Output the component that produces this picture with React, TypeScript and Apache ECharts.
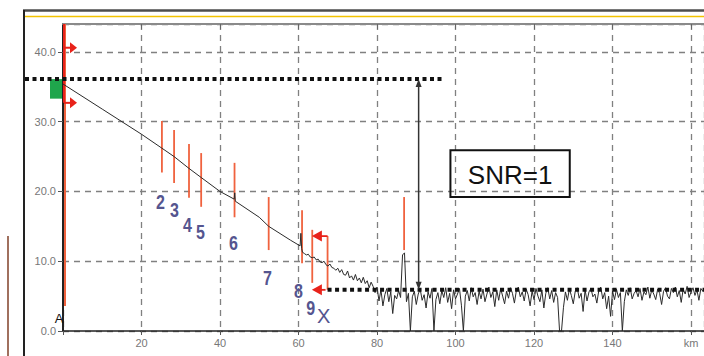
import React, { useEffect, useRef } from "react";
import * as echarts from "echarts";

// ---- data (km, dB) ----
const TRACE_KM = [0, 10, 20, 25.2, 28.3, 32.1, 35.2, 40, 43.6, 43.75, 43.9, 50, 52.4, 58, 60.4, 60.6, 60.8];
const TRACE_DB = [35.4, 31.8, 28.2, 26.2, 25.0, 23.3, 22.0, 20.0, 18.9, 19.8, 18.6, 16.3, 15.0, 13.0, 12.2, 14.0, 11.8];

const NOISE_START_KM = 61;
const NOISE_STEP_KM = 0.5;
const NOISE_DB = [
  11.3, 11.1, 10.9, 11.0, 10.6, 10.5, 10.6, 10.2, 10.3, 9.9,
  9.8, 10.0, 9.5, 9.3, 9.6, 9.1, 9.0, 8.7, 9.0, 8.4,
  8.8, 8.1, 8.0, 8.6, 7.6, 7.9, 7.3, 8.1, 7.2, 7.6,
  6.9, 7.7, 6.8, 7.2, 6.2, 7.0, 6.4, 5.5, 6.3, 4.3,
  5.9, 3.6, 5.2, 6.1, 4.2, 5.6, 2.5, 5.1, 4.6, 5.8,
  4.8, 10.9, 11.2, 4.2, 5.4, 0.0, 4.9, 5.7, 3.8, 5.3,
  6.0, 4.4, 5.2, 3.3, 5.6, 4.7, 6.1, 0.0, 4.5, 5.5,
  3.9, 5.8, 4.8, 6.2, 4.1, 5.4, 3.2, 5.9, 4.6, 5.3,
  6.1, 3.7, 0.0, 5.0, 5.8, 4.3, 6.2, 4.9, 5.5, 3.8,
  5.7, 4.6, 6.0, 4.2, 5.3, 6.3, 4.8, 5.6, 3.5, 5.9,
  4.4, 6.1, 5.0, 3.9, 5.7, 4.7, 6.2, 5.4, 4.0, 5.8,
  6.3, 4.9, 5.6, 4.3, 6.0, 5.2, 3.6, 5.7, 4.5, 6.1,
  5.0, 4.2, 5.9, 3.3, 5.4, 6.2, 4.6, 5.8, 4.1, 5.5,
  4.8, 0.0, 0.0, 3.4, 5.6, 4.4, 6.0, 5.1, 3.9, 5.7,
  6.2, 4.7, 5.4, 2.8, 5.9, 4.3, 5.6, 6.1, 4.9, 5.3,
  4.0, 5.8, 6.3, 4.6, 5.5, 3.2, 5.0, 2.1, 5.7, 4.5,
  6.0, 4.8, 5.5, 0.0, 4.2, 5.9, 5.1, 6.2, 4.6, 5.4,
  5.8, 4.9, 6.1, 4.4, 5.6, 5.2, 6.3, 4.7, 5.9, 5.3,
  4.5, 6.0, 5.4, 3.8, 5.7, 6.2, 5.0, 4.6, 6.1, 5.5,
  6.3, 4.9, 5.8, 4.1, 6.0, 5.3, 6.4, 4.8, 5.6, 6.2,
  5.1, 5.9, 4.4, 6.1, 5.7, 6.3, 5.2, 5.8, 4.9, 6.0,
];

// event markers (red vertical bars)
const MARKER_KM = [25.2, 28.3, 32.1, 35.2, 43.7, 52.4, 60.9, 63.5, 86.9];
const MARKER_TOP_DB = [30.1, 28.8, 26.8, 25.5, 24.1, 19.2, 17.3, 14.5, 19.2];
const MARKER_BOTTOM_DB = [22.7, 21.2, 19.1, 17.8, 16.3, 11.6, 9.7, 6.9, 11.6];

const LAUNCH_MARKER_TOP_DB = 44;
const LAUNCH_MARKER_BOTTOM_DB = 3.6;
const LAUNCH_ARROW_DB = [40.6, 32.7];

// event labels
const EVENT_LABELS = ["2", "3", "4", "5", "6", "7", "8", "9", "X"];
const EVENT_LABEL_KM = [24.8, 28.4, 31.7, 35.0, 43.4, 52.1, 60.0, 63.1, 66.4];
const EVENT_LABEL_DB = [18.5, 17.3, 15.2, 14.1, 12.6, 7.6, 5.7, 3.2, 2.2];

// SNR annotation
const LAUNCH_LEVEL_DB = 36.1;
const NOISE_LEVEL_DB = 5.9;
const LAUNCH_LEVEL_END_KM = 96.7;
const NOISE_LEVEL_START_KM = 67.4;
const BRACKET_TIP_KM = 63.4;
const BRACKET_TOP_DB = 13.6;
const SNR_ARROW_KM = 90.6;
const SNR_BOX_KM = [98.7, 129.1];
const SNR_BOX_DB = [25.9, 19.2];
const SNR_TEXT = "SNR=1";

const X_MIN = 0;
const X_MAX = 163.3;
const X_INTERVAL = 20;
const Y_MIN = 0;
const Y_MAX = 44;
const Y_INTERVAL = 10;

const FONT = '"Liberation Sans", Arial, sans-serif';
const ORANGE = "#f0623e";
const RED = "#e8221a";

export default function App() {
  const ref = useRef<HTMLDivElement>(null);

  useEffect(() => {
    if (!ref.current) return;
    const chart = echarts.init(ref.current, undefined, { renderer: "svg" });

    const traceData: number[][] = TRACE_KM.map((k, i) => [k, TRACE_DB[i]]);
    NOISE_DB.forEach((v, i) => traceData.push([NOISE_START_KM + i * NOISE_STEP_KM, v]));

    chart.setOption({
      animation: false,
      grid: { left: 63, right: 0, top: 24, bottom: 25 },
      xAxis: [
        {
          type: "value",
          min: X_MIN,
          max: X_MAX,
          interval: X_INTERVAL,
          axisLine: { show: true, onZero: false, lineStyle: { color: "#222", width: 1.5 } },
          axisTick: { show: true, length: 4, lineStyle: { color: "#555" } },
          axisLabel: {
            color: "#777",
            fontSize: 11,
            fontFamily: FONT,
            margin: 6,
            showMaxLabel: false,
            formatter: (v: number) => (v === 0 ? "" : v === 160 ? "km" : String(v)),
          },
          splitLine: { show: true, lineStyle: { type: [6, 5], color: "#808080", width: 1.3 } },
        },
        {
          type: "value",
          position: "top",
          min: X_MIN,
          max: X_MAX,
          interval: X_INTERVAL,
          axisLine: { show: true, onZero: false, lineStyle: { color: "#8a8a8a", width: 2 } },
          axisTick: { show: true, inside: true, length: 5, lineStyle: { color: "#666" } },
          axisLabel: { show: false },
          splitLine: { show: false },
        },
      ],
      yAxis: {
        type: "value",
        min: Y_MIN,
        max: Y_MAX,
        interval: Y_INTERVAL,
        axisLine: { show: true, onZero: false, lineStyle: { color: "#222", width: 2 } },
        axisTick: { show: true, length: 5, lineStyle: { color: "#555" } },
        axisLabel: {
          color: "#777",
          fontSize: 11,
          fontFamily: FONT,
          margin: 7,
          showMaxLabel: false,
          formatter: (v: number) => v.toFixed(1),
        },
        splitLine: { show: true, lineStyle: { type: [6, 5], color: "#808080", width: 1.3 } },
      },
      series: [
        {
          type: "line",
          data: traceData,
          showSymbol: false,
          symbol: "none",
          lineStyle: { color: "#2b2b2b", width: 1 },
          z: 3,
        },
      ],
    });

    const p = (km: number, db: number) =>
      chart.convertToPixel({ seriesIndex: 0 }, [km, db]) as number[];

    const g: any[] = [];
    const line = (x1: number, y1: number, x2: number, y2: number, style: any, z = 10) =>
      g.push({ type: "line", z, shape: { x1, y1, x2, y2 }, style });

    // outer frame decoration
    line(23, 10.5, 704, 10.5, { stroke: "#4d4d4d", lineWidth: 2.5 });
    line(24, 10, 24, 356, { stroke: "#222", lineWidth: 2 });
    line(25, 16.5, 704, 16.5, { stroke: "#f2c200", lineWidth: 1.5 });
    line(8, 236, 8, 356, { stroke: "#a0705e", lineWidth: 2 });

    // launch marker
    const lt = p(0, LAUNCH_MARKER_TOP_DB);
    const lb = p(0, LAUNCH_MARKER_BOTTOM_DB);
    line(lt[0] + 2, lt[1], lb[0] + 2, lb[1], { stroke: ORANGE, lineWidth: 2 }, 1);
    const la0 = p(0, LAUNCH_ARROW_DB[0]);
    const la1 = p(0, LAUNCH_ARROW_DB[1]);
    line(la0[0] + 1, lt[1], la1[0] + 1, la1[1], { stroke: RED, lineWidth: 2 }, 2);
    [la0, la1].forEach((a) => {
      line(a[0] + 1, a[1], a[0] + 8, a[1], { stroke: RED, lineWidth: 2 });
      g.push({
        type: "polygon",
        z: 10,
        shape: { points: [[a[0] + 7, a[1] - 5.5], [a[0] + 14, a[1]], [a[0] + 7, a[1] + 5.5]] },
        style: { fill: RED },
      });
    });

    // green launch-level box
    const gTop = p(0, LAUNCH_LEVEL_DB);
    const gBot = p(0, 33.3);
    g.push({
      type: "rect",
      z: 9,
      shape: { x: gTop[0] - 13, y: gTop[1], width: 12, height: gBot[1] - gTop[1] },
      style: { fill: "#1fa54c" },
    });

    // event markers
    MARKER_KM.forEach((k, i) => {
      const a = p(k, MARKER_TOP_DB[i]);
      const b = p(k, MARKER_BOTTOM_DB[i]);
      line(a[0], a[1], b[0], b[1], { stroke: ORANGE, lineWidth: 1.8 }, 1);
    });

    // noise bracket
    const bt = p(NOISE_LEVEL_START_KM, BRACKET_TOP_DB);
    const bb = p(NOISE_LEVEL_START_KM, NOISE_LEVEL_DB);
    line(bt[0], bt[1], bb[0], bb[1], { stroke: ORANGE, lineWidth: 1.8 }, 1);
    const tipT = p(BRACKET_TIP_KM, BRACKET_TOP_DB);
    const tipB = p(BRACKET_TIP_KM, NOISE_LEVEL_DB);
    line(tipT[0] + 8, tipT[1], bt[0], bt[1], { stroke: RED, lineWidth: 1.8 });
    line(tipB[0] + 8, tipB[1], bb[0] - 2, bb[1], { stroke: RED, lineWidth: 1.8 });
    [tipT, tipB].forEach((t) => {
      g.push({
        type: "polygon",
        z: 10,
        shape: { points: [[t[0], t[1]], [t[0] + 10, t[1] - 5.5], [t[0] + 10, t[1] + 5.5]] },
        style: { fill: RED },
      });
    });

    // dotted level lines
    const dotStyle = { stroke: "#111", lineWidth: 4, lineDash: [4, 3.5] };
    const l1 = p(LAUNCH_LEVEL_END_KM, LAUNCH_LEVEL_DB);
    line(25, l1[1], l1[0], l1[1], dotStyle);
    line(bb[0], bb[1], 704, bb[1], dotStyle);

    // double arrow
    const aT = p(SNR_ARROW_KM, LAUNCH_LEVEL_DB);
    const aB = p(SNR_ARROW_KM, NOISE_LEVEL_DB);
    line(aT[0], aT[1] + 4, aB[0], aB[1] - 4, { stroke: "#333", lineWidth: 1.5 });
    g.push({
      type: "polygon",
      z: 10,
      shape: { points: [[aT[0], aT[1]], [aT[0] - 3, aT[1] + 8], [aT[0] + 3, aT[1] + 8]] },
      style: { fill: "#333" },
    });
    g.push({
      type: "polygon",
      z: 10,
      shape: { points: [[aB[0], aB[1]], [aB[0] - 3, aB[1] - 8], [aB[0] + 3, aB[1] - 8]] },
      style: { fill: "#333" },
    });

    // SNR box
    const s0 = p(SNR_BOX_KM[0], SNR_BOX_DB[0]);
    const s1 = p(SNR_BOX_KM[1], SNR_BOX_DB[1]);
    g.push({
      type: "rect",
      z: 10,
      shape: { x: s0[0], y: s0[1], width: s1[0] - s0[0], height: s1[1] - s0[1] },
      style: { fill: "none", stroke: "#111", lineWidth: 2 },
    });
    g.push({
      type: "text",
      z: 11,
      x: (s0[0] + s1[0]) / 2,
      y: (s0[1] + s1[1]) / 2 + 1,
      style: {
        text: SNR_TEXT,
        fill: "#111",
        fontSize: 26,
        fontFamily: FONT,
        align: "center",
        verticalAlign: "middle",
        textAlign: "center",
        textVerticalAlign: "middle",
      },
    });

    // event labels
    EVENT_LABELS.forEach((t, i) => {
      const c = p(EVENT_LABEL_KM[i], EVENT_LABEL_DB[i]);
      g.push({
        type: "text",
        z: 11,
        x: c[0],
        y: c[1],
        scaleX: t === "X" ? 1 : 0.8,
        style: {
          text: t,
          fill: "#55558f",
          fontSize: 20,
          fontWeight: t === "X" ? "normal" : "bold",
          fontFamily: FONT,
          align: "center",
          verticalAlign: "middle",
          textAlign: "center",
          textVerticalAlign: "middle",
        },
      });
    });

    // origin "A" mark
    const o = p(0, 0);
    g.push({
      type: "text",
      z: 11,
      x: o[0] - 4,
      y: o[1] - 13,
      style: {
        text: "A",
        fill: "#111",
        fontSize: 13,
        fontFamily: FONT,
        align: "center",
        verticalAlign: "middle",
        textAlign: "center",
        textVerticalAlign: "middle",
      },
    });

    chart.setOption({ graphic: g });

    return () => chart.dispose();
  }, []);

  return (
    <div
      ref={ref}
      style={{ position: "absolute", left: 0, top: 0, width: 704, height: 356, background: "#fff" }}
    />
  );
}
